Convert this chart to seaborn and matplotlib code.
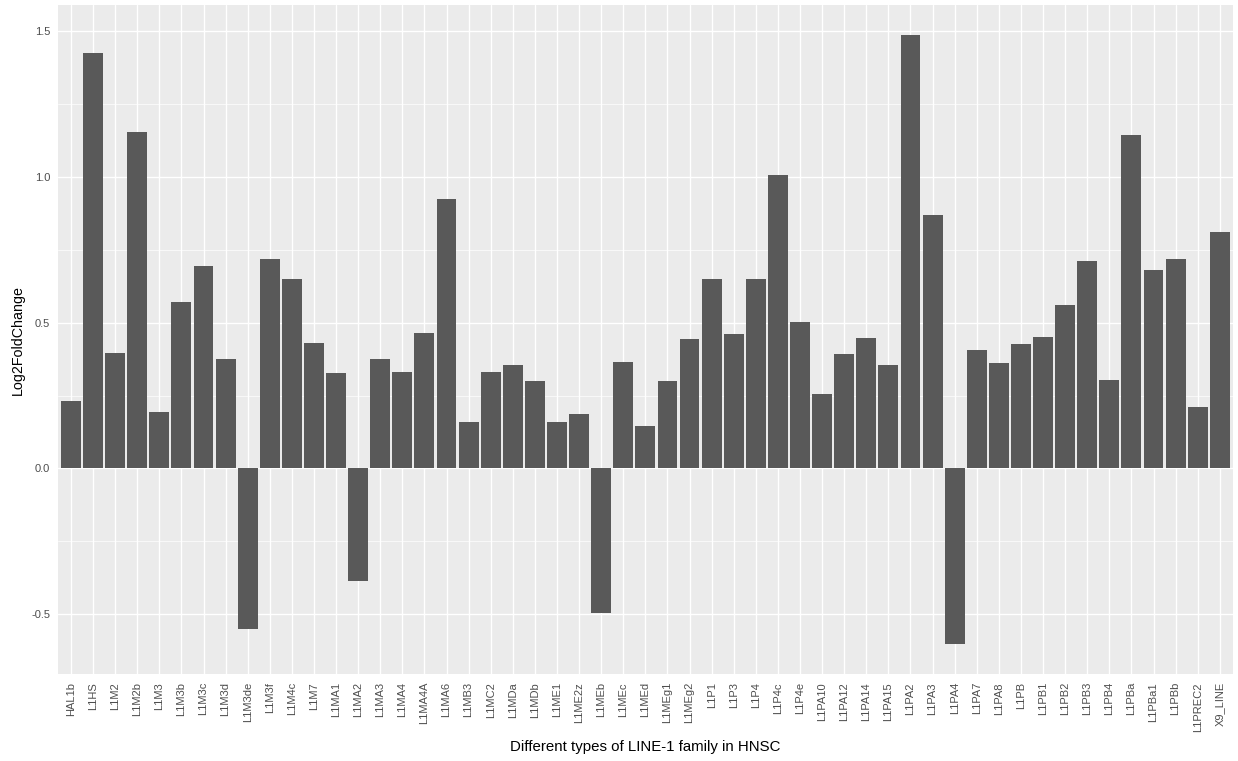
import matplotlib
matplotlib.use("Agg")
import matplotlib.pyplot as plt
import seaborn as sns
import pandas as pd
from matplotlib.ticker import FixedLocator

categories = ["HAL1b", "L1HS", "L1M2", "L1M2b", "L1M3", "L1M3b", "L1M3c", "L1M3d", "L1M3de",
              "L1M3f", "L1M4c", "L1M7", "L1MA1", "L1MA2", "L1MA3", "L1MA4", "L1MA4A", "L1MA6",
              "L1MB3", "L1MC2", "L1MDa", "L1MDb", "L1ME1", "L1ME2z", "L1MEb", "L1MEc", "L1MEd",
              "L1MEg1", "L1MEg2", "L1P1", "L1P3", "L1P4", "L1P4c", "L1P4e", "L1PA10", "L1PA12",
              "L1PA14", "L1PA15", "L1PA2", "L1PA3", "L1PA4", "L1PA7", "L1PA8", "L1PB", "L1PB1",
              "L1PB2", "L1PB3", "L1PB4", "L1PBa", "L1PBa1", "L1PBb", "L1PREC2", "X9_LINE"]
log2fc = [0.231, 1.426, 0.397, 1.155, 0.195, 0.571, 0.696, 0.376, -0.552,
          0.720, 0.651, 0.431, 0.326, -0.385, 0.376, 0.331, 0.466, 0.926,
          0.160, 0.330, 0.355, 0.301, 0.160, 0.185, -0.497, 0.366, 0.145,
          0.301, 0.445, 0.651, 0.461, 0.651, 1.006, 0.501, 0.255, 0.391,
          0.446, 0.355, 1.486, 0.871, -0.603, 0.405, 0.360, 0.426, 0.450,
          0.561, 0.711, 0.305, 1.146, 0.682, 0.720, 0.210, 0.811]
y_ticks = [-0.5, 0.0, 0.5, 1.0, 1.5]
y_ticklabels = ["-0.5", "0.0", "0.5", "1.0", "1.5"]
y_minor = [-0.25, 0.25, 0.75, 1.25]

df = pd.DataFrame({"type": categories, "lfc": log2fc})

sns.set_theme(style="darkgrid")
plt.rcParams["font.family"] = ["Liberation Sans", "DejaVu Sans"]

fig = plt.figure(figsize=(12.38, 7.61), dpi=100)
ax = fig.add_axes([0.0466, 0.1137, 0.996 - 0.0466, 0.9934 - 0.1137])
ax.set_facecolor("#EBEBEB")

sns.barplot(data=df, x="type", y="lfc", order=categories, color="#595959",
            saturation=1, width=0.9, edgecolor="none", linewidth=0, ax=ax, zorder=3)

ax.set_xlim(-0.6, len(categories) - 1 + 0.6)
ax.set_ylim(-0.7075, 1.5905)

ax.set_yticks(y_ticks)
ax.set_yticklabels(y_ticklabels)
ax.yaxis.set_minor_locator(FixedLocator(y_minor))

ax.grid(which="major", color="white", linewidth=1.0, zorder=0)
ax.grid(which="minor", axis="y", color="white", linewidth=0.5, zorder=0)
ax.set_axisbelow(True)
for s in ax.spines.values():
    s.set_visible(False)

ax.tick_params(axis="both", which="major", length=3, width=0.8, color="#333333",
               labelcolor="#4D4D4D", labelsize=8, pad=2.5)
ax.tick_params(axis="y", which="minor", length=0)
plt.setp(ax.get_xticklabels(), rotation=90)

ax.set_xlabel("Different types of LINE-1 family in HNSC", fontsize=10.8, color="black")
ax.set_ylabel("Log2FoldChange", fontsize=10.3, color="black")
ax.xaxis.set_label_coords(0.5, -0.1083)
ax.yaxis.set_label_coords(-0.0338, 0.5)
ax.xaxis.label.set_va("center")
ax.yaxis.label.set_va("center")

fig.savefig("out.png", dpi=100)
